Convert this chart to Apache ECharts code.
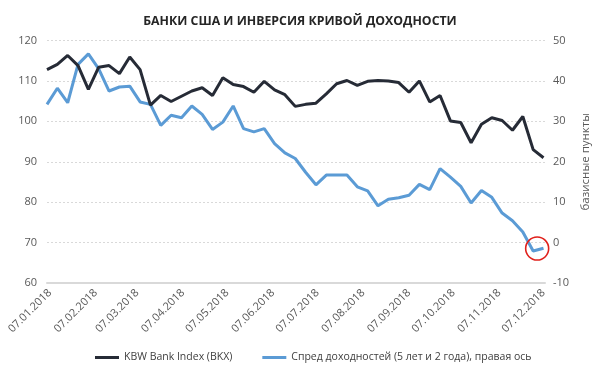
<!DOCTYPE html>
<html>
<head>
<meta charset="utf-8">
<script src="https://cdn.jsdelivr.net/npm/echarts@6/dist/echarts.min.js"></script>
<style>
html,body{margin:0;padding:0;background:#fff;}
#chart{width:600px;height:374px;}
</style>
</head>
<body>
<div id="chart"></div>
<script>
// Weekly observation dates (Fridays)
var dates = [
  '2018-01-05','2018-01-12','2018-01-19','2018-01-26',
  '2018-02-02','2018-02-09','2018-02-16','2018-02-23',
  '2018-03-02','2018-03-09','2018-03-16','2018-03-23','2018-03-30',
  '2018-04-06','2018-04-13','2018-04-20','2018-04-27',
  '2018-05-04','2018-05-11','2018-05-18','2018-05-25',
  '2018-06-01','2018-06-08','2018-06-15','2018-06-22','2018-06-29',
  '2018-07-06','2018-07-13','2018-07-20','2018-07-27',
  '2018-08-03','2018-08-10','2018-08-17','2018-08-24','2018-08-31',
  '2018-09-07','2018-09-14','2018-09-21','2018-09-28',
  '2018-10-05','2018-10-12','2018-10-19','2018-10-26',
  '2018-11-02','2018-11-09','2018-11-16','2018-11-23','2018-11-30',
  '2018-12-07'
];

// KBW Bank Index (BKX), left axis
var bkx = [
  112.8,114.1,116.3,113.8,107.9,113.4,113.8,111.8,115.9,112.8,
  104.0,106.4,104.9,106.2,107.5,108.3,106.4,110.8,109.1,108.6,
  107.2,109.9,107.8,106.6,103.7,104.2,104.5,106.8,109.3,110.1,
  108.9,109.9,110.1,110.0,109.6,107.2,110.0,104.8,106.4,100.1,
  99.7,94.7,99.3,100.9,100.2,97.8,101.2,93.0,91.0
];

// Spread 5y-2y, basis points, right axis
var spread = [
  34.2,38.2,34.6,44.1,46.7,43.0,37.5,38.5,38.7,34.8,
  34.2,29.0,31.5,30.9,33.8,31.7,28.0,29.8,33.8,28.2,
  27.4,28.2,24.5,22.2,20.8,17.4,14.3,16.7,16.7,16.7,
  13.8,12.8,9.1,10.7,11.1,11.7,14.4,13.1,18.3,16.2,
  13.9,9.8,12.9,11.2,7.3,5.4,2.6,-2.1,-1.4
];

// Date axis tick labels
var tickLabels = ['07.01.2018','07.02.2018','07.03.2018','07.04.2018','07.05.2018','07.06.2018',
                  '07.07.2018','07.08.2018','07.09.2018','07.10.2018','07.11.2018','07.12.2018'];

var seriesNames = ['KBW Bank Index (BKX)', 'Спред доходностей (5 лет и 2 года), правая ось'];
var titleText = 'БАНКИ США И ИНВЕРСИЯ КРИВОЙ ДОХОДНОСТИ';
var rightAxisName = 'базисные пункты';

var DAY = 86400000;
function parseDMY(s){ var p = s.split('.'); return Date.UTC(+p[2], +p[1]-1, +p[0]) / DAY; }
function parseISO(s){ var p = s.split('-'); return Date.UTC(+p[0], +p[1]-1, +p[2]) / DAY; }
var tickValues = tickLabels.map(parseDMY);
var dateVals = dates.map(parseISO);
var labelByDay = {};
tickLabels.forEach(function(s, i){ labelByDay[tickValues[i]] = s; });

var font = '"Open Sans", "Noto Sans", sans-serif';
var chart = echarts.init(document.getElementById('chart'), null, {renderer:'canvas'});
chart.setOption({
  animation: false,
  textStyle: {fontFamily: font},
  title: {
    text: titleText, left: 'center', top: 10,
    textStyle: {fontFamily: font, fontSize: 12.3, fontWeight: 'bold', color: '#262626'}
  },
  grid: {left: 47, top: 40.5, width: 502, bottom: 91},
  legend: {
    left: 90, top: 347, itemGap: 30, itemWidth: 24, itemHeight: 3, icon: 'rect',
    textStyle: {fontFamily: font, fontSize: 10.5, color: '#404040'},
    data: seriesNames
  },
  xAxis: {
    type: 'value',
    min: dateVals[0],
    max: parseISO('2018-12-08'),
    axisLine: {show: true, onZero: false, lineStyle: {color: '#d9d9d9', width: 2}},
    axisTick: {show: false},
    splitLine: {show: false},
    axisLabel: {
      customValues: tickValues,
      rotate: 45, margin: 8, fontSize: 11, color: '#595959', fontFamily: font,
      hideOverlap: false,
      formatter: function(v){ return labelByDay[Math.round(v)] || ''; }
    }
  },
  yAxis: [{
    type: 'value', min: 60, max: 120, interval: 10, position: 'left',
    axisLine: {show: false}, axisTick: {show: false},
    axisLabel: {fontSize: 11, color: '#595959', margin: 10, fontFamily: font},
    splitLine: {show: true, lineStyle: {color: '#d9d9d9', type: [2, 2], width: 1}}
  }, {
    type: 'value', min: -10, max: 50, interval: 10, position: 'right',
    axisLine: {show: false}, axisTick: {show: false},
    axisLabel: {fontSize: 11, color: '#595959', margin: 8, fontFamily: font},
    splitLine: {show: false},
    name: rightAxisName, nameLocation: 'middle', nameRotate: 90, nameGap: 31,
    nameTextStyle: {fontSize: 11.5, color: '#595959', fontFamily: font}
  }],
  series: [{
    name: seriesNames[0], type: 'line', yAxisIndex: 0,
    data: dateVals.map(function(d,i){ return [d, bkx[i]]; }),
    symbol: 'none', lineStyle: {color: '#262b36', width: 3}, itemStyle: {color: '#262b36'},
    z: 3
  }, {
    name: seriesNames[1], type: 'line', yAxisIndex: 1,
    data: dateVals.map(function(d,i){ return [d, spread[i]]; }),
    symbol: 'none', lineStyle: {color: '#5b9bd5', width: 3}, itemStyle: {color: '#5b9bd5'},
    z: 2,
    markPoint: {
      silent: true,
      data: [{
        coord: [dateVals[47], spread[47]],
        symbol: 'circle', symbolSize: 23, symbolOffset: [4, -2.5],
        itemStyle: {color: 'rgba(0,0,0,0)', borderColor: '#e0201b', borderWidth: 1.6},
        label: {show: false}
      }]
    }
  }]
});
</script>
</body>
</html>
